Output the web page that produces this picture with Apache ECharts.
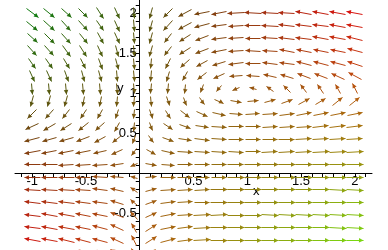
<!DOCTYPE html>
<html><head><meta charset="utf-8">
<script src="https://cdn.jsdelivr.net/npm/echarts@6/dist/echarts.min.js"></script>
<style>html,body{margin:0;padding:0;background:#fff}#c{width:388px;height:250px}</style>
</head><body><div id="c"></div>
<script>
// grid sample positions (x left->right, y top->bottom)
const xGrid = [-1, -0.842, -0.684, -0.526, -0.368, -0.211, -0.053, 0.105, 0.263, 0.421, 0.579, 0.737, 0.895, 1.053, 1.211, 1.368, 1.526, 1.684, 1.842, 2];
const yGrid = [2, 1.842, 1.684, 1.526, 1.368, 1.211, 1.053, 0.895, 0.737, 0.579, 0.421, 0.263, 0.105, -0.053, -0.211, -0.368, -0.526, -0.684, -0.842, -1];

// horizontal component of each arrow, one row per yGrid entry
const dxRows = [
 [4.00, 3.37, 2.74, 2.11, 1.47, 0.84, 0.21, -0.42, -1.05, -1.68, -2.32, -2.95, -3.58, -4.21, -4.84, -5.47, -6.11, -6.74, -7.37, -8.00],
 [3.37, 2.84, 2.30, 1.77, 1.24, 0.71, 0.18, -0.35, -0.89, -1.42, -1.95, -2.48, -3.01, -3.55, -4.08, -4.61, -5.14, -5.67, -6.20, -6.74],
 [2.74, 2.30, 1.87, 1.44, 1.01, 0.58, 0.14, -0.29, -0.72, -1.15, -1.58, -2.02, -2.45, -2.88, -3.31, -3.75, -4.18, -4.61, -5.04, -5.47],
 [2.11, 1.77, 1.44, 1.11, 0.78, 0.44, 0.11, -0.22, -0.55, -0.89, -1.22, -1.55, -1.88, -2.22, -2.55, -2.88, -3.21, -3.55, -3.88, -4.21],
 [1.47, 1.24, 1.01, 0.78, 0.54, 0.31, 0.08, -0.16, -0.39, -0.62, -0.85, -1.09, -1.32, -1.55, -1.78, -2.02, -2.25, -2.48, -2.71, -2.95],
 [0.84, 0.71, 0.58, 0.44, 0.31, 0.18, 0.04, -0.09, -0.22, -0.35, -0.49, -0.62, -0.75, -0.89, -1.02, -1.15, -1.29, -1.42, -1.55, -1.68],
 [0.21, 0.18, 0.14, 0.11, 0.08, 0.04, 0.01, -0.02, -0.06, -0.09, -0.12, -0.16, -0.19, -0.22, -0.25, -0.29, -0.32, -0.35, -0.39, -0.42],
 [-0.42, -0.35, -0.29, -0.22, -0.16, -0.09, -0.02, 0.04, 0.11, 0.18, 0.24, 0.31, 0.38, 0.44, 0.51, 0.58, 0.64, 0.71, 0.78, 0.84],
 [-1.05, -0.89, -0.72, -0.55, -0.39, -0.22, -0.06, 0.11, 0.28, 0.44, 0.61, 0.78, 0.94, 1.11, 1.27, 1.44, 1.61, 1.77, 1.94, 2.11],
 [-1.68, -1.42, -1.15, -0.89, -0.62, -0.35, -0.09, 0.18, 0.44, 0.71, 0.98, 1.24, 1.51, 1.77, 2.04, 2.30, 2.57, 2.84, 3.10, 3.37],
 [-2.32, -1.95, -1.58, -1.22, -0.85, -0.49, -0.12, 0.24, 0.61, 0.98, 1.34, 1.71, 2.07, 2.44, 2.80, 3.17, 3.53, 3.90, 4.27, 4.63],
 [-2.95, -2.48, -2.02, -1.55, -1.09, -0.62, -0.16, 0.31, 0.78, 1.24, 1.71, 2.17, 2.64, 3.10, 3.57, 4.03, 4.50, 4.96, 5.43, 5.89],
 [-3.58, -3.01, -2.45, -1.88, -1.32, -0.75, -0.19, 0.38, 0.94, 1.51, 2.07, 2.64, 3.20, 3.77, 4.33, 4.90, 5.46, 6.03, 6.59, 7.16],
 [-4.21, -3.55, -2.88, -2.22, -1.55, -0.89, -0.22, 0.44, 1.11, 1.77, 2.44, 3.10, 3.77, 4.43, 5.10, 5.76, 6.43, 7.09, 7.76, 8.42],
 [-4.84, -4.08, -3.31, -2.55, -1.78, -1.02, -0.25, 0.51, 1.27, 2.04, 2.80, 3.57, 4.33, 5.10, 5.86, 6.63, 7.39, 8.16, 8.92, 9.68],
 [-5.47, -4.61, -3.75, -2.88, -2.02, -1.15, -0.29, 0.58, 1.44, 2.30, 3.17, 4.03, 4.90, 5.76, 6.63, 7.49, 8.35, 9.22, 10.08, 10.95],
 [-6.11, -5.14, -4.18, -3.21, -2.25, -1.29, -0.32, 0.64, 1.61, 2.57, 3.53, 4.50, 5.46, 6.43, 7.39, 8.35, 9.32, 10.28, 11.25, 12.21],
 [-6.74, -5.67, -4.61, -3.55, -2.48, -1.42, -0.35, 0.71, 1.77, 2.84, 3.90, 4.96, 6.03, 7.09, 8.16, 9.22, 10.28, 11.35, 12.41, 13.47],
 [-7.37, -6.20, -5.04, -3.88, -2.71, -1.55, -0.39, 0.78, 1.94, 3.10, 4.27, 5.43, 6.59, 7.76, 8.92, 10.08, 11.25, 12.41, 13.57, 14.74],
 [-8.00, -6.74, -5.47, -4.21, -2.95, -1.68, -0.42, 0.84, 2.11, 3.37, 4.63, 5.89, 7.16, 8.42, 9.68, 10.95, 12.21, 13.47, 14.74, 16.00]
];

// vertical component of each arrow, one row per yGrid entry
const dyRows = [
 [-4.00, -3.68, -3.37, -3.05, -2.74, -2.42, -2.11, -1.79, -1.47, -1.16, -0.84, -0.53, -0.21, 0.11, 0.42, 0.74, 1.05, 1.37, 1.68, 2.00],
 [-3.68, -3.39, -3.10, -2.81, -2.52, -2.23, -1.94, -1.65, -1.36, -1.07, -0.78, -0.48, -0.19, 0.10, 0.39, 0.68, 0.97, 1.26, 1.55, 1.84],
 [-3.37, -3.10, -2.84, -2.57, -2.30, -2.04, -1.77, -1.51, -1.24, -0.98, -0.71, -0.44, -0.18, 0.09, 0.35, 0.62, 0.89, 1.15, 1.42, 1.68],
 [-3.05, -2.81, -2.57, -2.33, -2.09, -1.85, -1.61, -1.37, -1.12, -0.88, -0.64, -0.40, -0.16, 0.08, 0.32, 0.56, 0.80, 1.04, 1.29, 1.53],
 [-2.74, -2.52, -2.30, -2.09, -1.87, -1.66, -1.44, -1.22, -1.01, -0.79, -0.58, -0.36, -0.14, 0.07, 0.29, 0.50, 0.72, 0.94, 1.15, 1.37],
 [-2.42, -2.23, -2.04, -1.85, -1.66, -1.47, -1.27, -1.08, -0.89, -0.70, -0.51, -0.32, -0.13, 0.06, 0.25, 0.45, 0.64, 0.83, 1.02, 1.21],
 [-2.11, -1.94, -1.77, -1.61, -1.44, -1.27, -1.11, -0.94, -0.78, -0.61, -0.44, -0.28, -0.11, 0.06, 0.22, 0.39, 0.55, 0.72, 0.89, 1.05],
 [-1.79, -1.65, -1.51, -1.37, -1.22, -1.08, -0.94, -0.80, -0.66, -0.52, -0.38, -0.24, -0.09, 0.05, 0.19, 0.33, 0.47, 0.61, 0.75, 0.89],
 [-1.47, -1.36, -1.24, -1.12, -1.01, -0.89, -0.78, -0.66, -0.54, -0.43, -0.31, -0.19, -0.08, 0.04, 0.16, 0.27, 0.39, 0.50, 0.62, 0.74],
 [-1.16, -1.07, -0.98, -0.88, -0.79, -0.70, -0.61, -0.52, -0.43, -0.34, -0.24, -0.15, -0.06, 0.03, 0.12, 0.21, 0.30, 0.40, 0.49, 0.58],
 [-0.84, -0.78, -0.71, -0.64, -0.58, -0.51, -0.44, -0.38, -0.31, -0.24, -0.18, -0.11, -0.04, 0.02, 0.09, 0.16, 0.22, 0.29, 0.35, 0.42],
 [-0.53, -0.48, -0.44, -0.40, -0.36, -0.32, -0.28, -0.24, -0.19, -0.15, -0.11, -0.07, -0.03, 0.01, 0.06, 0.10, 0.14, 0.18, 0.22, 0.26],
 [-0.21, -0.19, -0.18, -0.16, -0.14, -0.13, -0.11, -0.09, -0.08, -0.06, -0.04, -0.03, -0.01, 0.01, 0.02, 0.04, 0.06, 0.07, 0.09, 0.11],
 [0.11, 0.10, 0.09, 0.08, 0.07, 0.06, 0.06, 0.05, 0.04, 0.03, 0.02, 0.01, 0.01, 0.00, -0.01, -0.02, -0.03, -0.04, -0.04, -0.05],
 [0.42, 0.39, 0.35, 0.32, 0.29, 0.25, 0.22, 0.19, 0.16, 0.12, 0.09, 0.06, 0.02, -0.01, -0.04, -0.08, -0.11, -0.14, -0.18, -0.21],
 [0.74, 0.68, 0.62, 0.56, 0.50, 0.45, 0.39, 0.33, 0.27, 0.21, 0.16, 0.10, 0.04, -0.02, -0.08, -0.14, -0.19, -0.25, -0.31, -0.37],
 [1.05, 0.97, 0.89, 0.80, 0.72, 0.64, 0.55, 0.47, 0.39, 0.30, 0.22, 0.14, 0.06, -0.03, -0.11, -0.19, -0.28, -0.36, -0.44, -0.53],
 [1.37, 1.26, 1.15, 1.04, 0.94, 0.83, 0.72, 0.61, 0.50, 0.40, 0.29, 0.18, 0.07, -0.04, -0.14, -0.25, -0.36, -0.47, -0.58, -0.68],
 [1.68, 1.55, 1.42, 1.29, 1.15, 1.02, 0.89, 0.75, 0.62, 0.49, 0.35, 0.22, 0.09, -0.04, -0.18, -0.31, -0.44, -0.58, -0.71, -0.84],
 [2.00, 1.84, 1.68, 1.53, 1.37, 1.21, 1.05, 0.89, 0.74, 0.58, 0.42, 0.26, 0.11, -0.05, -0.21, -0.37, -0.53, -0.68, -0.84, -1.00]
];

// axis ticks and labels
const xTickValues = [-1.1, -1, -0.9, -0.8, -0.7, -0.6, -0.5, -0.4, -0.3, -0.2, -0.1, 0, 0.1, 0.2, 0.3, 0.4, 0.5, 0.6, 0.7, 0.8, 0.9, 1, 1.1, 1.2, 1.3, 1.4, 1.5, 1.6, 1.7, 1.8, 1.9, 2, 2.1];
const xLabelValues = [-1, -0.5, 0.5, 1, 1.5, 2];
const yTickValues = [-0.9, -0.8, -0.7, -0.6, -0.5, -0.4, -0.3, -0.2, -0.1, 0, 0.1, 0.2, 0.3, 0.4, 0.5, 0.6, 0.7, 0.8, 0.9, 1, 1.1, 1.2, 1.3, 1.4, 1.5, 1.6, 1.7, 1.8, 1.9, 2, 2.1];
const yLabelValues = [-0.5, 0.5, 1, 1.5, 2];

// build series data
const data = [];
yGrid.forEach((y, j) => xGrid.forEach((x, i) => data.push([x, y, dxRows[j][i], dyRows[j][i]])));
const allDx = dxRows.flat(), allDy = dyRows.flat();
const dxMin = Math.min(...allDx), dxMax = Math.max(...allDx);
const dyMin = Math.min(...allDy), dyMax = Math.max(...allDy);

const ARROW_LEN = 0.16, M0 = 0.25, HEAD = 4.5;
function arrowColor(u, v) {
  const r = Math.round(16 + 200 * (v - dyMin) / (dyMax - dyMin));
  const g = Math.round(20 + 205 * (u - dxMin) / (dxMax - dxMin));
  return 'rgb(' + r + ',' + g + ',16)';
}
const snap = p => Math.round(p - 0.5) + 0.5;

// layout: 388x250 canvas, grid covers x in [-1.16, 2.16], y in [-0.9625, 2.1625]
const X_MIN = -1.16, X_MAX = 2.16, Y_MIN = -0.9625, Y_MAX = 2.1625;
const G_LEFT = 15, G_RIGHT = 16, G_TOP = 0, G_BOTTOM = 0;
const gridW = 388 - G_LEFT - G_RIGHT, gridH = 250 - G_TOP - G_BOTTOM;
const xAxisOffset = -gridH * (0 - Y_MIN) / (Y_MAX - Y_MIN);
const yAxisOffset = -gridW * (0 - X_MIN) / (X_MAX - X_MIN);

const FONT = 'Liberation Sans, Arial, sans-serif';
const chart = echarts.init(document.getElementById('c'), null, {renderer: 'canvas'});
chart.setOption({
  animation: false,
  backgroundColor: '#fff',
  grid: {left: G_LEFT, right: G_RIGHT, top: G_TOP, bottom: G_BOTTOM, containLabel: false, outerBoundsMode: 'none'},
  xAxis: {
    type: 'value', min: X_MIN, max: X_MAX, position: 'bottom', offset: xAxisOffset,
    axisLine: {onZero: false, lineStyle: {color: '#000', width: 1}},
    axisTick: {show: true, length: 4, customValues: xTickValues, lineStyle: {color: '#000'}},
    axisLabel: {show: true, customValues: xLabelValues, margin: 2, color: '#000', fontSize: 13, fontFamily: FONT, hideOverlap: false},
    splitLine: {show: false}
  },
  yAxis: {
    type: 'value', min: Y_MIN, max: Y_MAX, position: 'left', offset: yAxisOffset,
    axisLine: {onZero: false, lineStyle: {color: '#000', width: 1}},
    axisTick: {show: true, length: 4, customValues: yTickValues, lineStyle: {color: '#000'}},
    axisLabel: {show: true, customValues: yLabelValues, margin: 3, color: '#000', fontSize: 13, fontFamily: FONT, hideOverlap: false},
    splitLine: {show: false}
  },
  graphic: [
    {type: 'text', left: 253, top: 185, style: {text: 'x', fontSize: 13, fontFamily: FONT, fill: '#000'}},
    {type: 'text', left: 117, top: 82, style: {text: 'y', fontSize: 13, fontFamily: FONT, fill: '#000'}}
  ],
  series: [{
    type: 'custom',
    coordinateSystem: 'cartesian2d',
    clip: true,
    silent: true,
    data: data,
    renderItem: function (params, api) {
      const x = api.value(0), y = api.value(1), u = api.value(2), v = api.value(3);
      const m = Math.hypot(u, v);
      if (!(m > 0)) return null;
      const c = api.coord([x, y]);
      const sx = api.size([1, 0])[0], sy = api.size([0, 1])[1];
      const s = ARROW_LEN / (m + M0);
      const px = u * s * sx, py = -v * s * sy;
      const len = Math.hypot(px, py);
      const ux = px / len, uy = py / len;
      const tail = [snap(c[0] - px / 2), snap(c[1] - py / 2)];
      const tip = [snap(c[0] + px / 2), snap(c[1] + py / 2)];
      const hl = Math.min(HEAD, len * 0.6), hw = hl * 0.5;
      const base = [tip[0] - ux * hl, tip[1] - uy * hl];
      const col = arrowColor(u, v);
      return {
        type: 'group',
        children: [
          {type: 'line', shape: {x1: tail[0], y1: tail[1], x2: tip[0], y2: tip[1]}, style: {stroke: col, lineWidth: 1}},
          {type: 'polygon', shape: {points: [tip, [base[0] - uy * hw, base[1] + ux * hw], [base[0] + uy * hw, base[1] - ux * hw]]}, style: {fill: col}}
        ]
      };
    }
  }]
});
</script></body></html>
